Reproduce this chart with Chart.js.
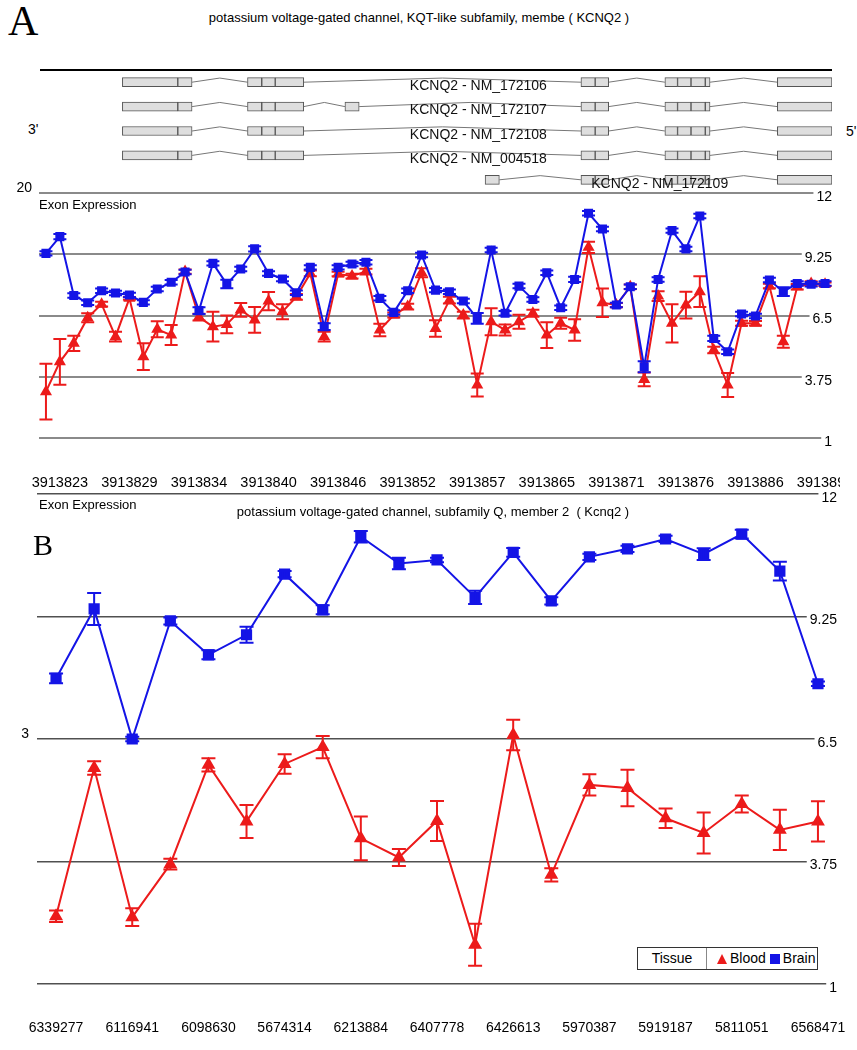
<!DOCTYPE html>
<html>
<head>
<meta charset="utf-8">
<title>KCNQ2 exon expression</title>
<script src="https://cdn.jsdelivr.net/npm/chart.js@4.4.1/dist/chart.umd.min.js"></script>
<style>
  body { margin: 0; width: 857px; height: 1050px; overflow: hidden; background: #fff; position: relative;
         font-family: "Liberation Sans", Arial, sans-serif; color: #000; }
  canvas { position: absolute; left: 0; }
  .txt { position: absolute; white-space: nowrap; }
  .panel { font-family: "Liberation Serif", "Times New Roman", serif; line-height: 1; }
  .title { font-size: 13px; line-height: 15px; text-align: center; left: 0; }
  .small { font-size: 13px; line-height: 15px; }
  .mid { font-size: 14px; line-height: 16px; }
  #rule { position: absolute; left: 40px; top: 69px; width: 792px; height: 2px; background: #000; }
  #legend { position: absolute; left: 637px; top: 947px; width: 179px; height: 21px; border: 1px solid #333;
            display: flex; font-size: 14px; line-height: 21px; background: #fff; }
  #legend .cell1 { width: 68px; text-align: center; border-right: 1px solid #888; }
  #legend .cell2 { padding-left: 10px; display: flex; align-items: center; }
  .tri { width: 0; height: 0; border-left: 5px solid transparent; border-right: 5px solid transparent;
         border-bottom: 10px solid #ec1b1b; margin-right: 3px; }
  .sq { width: 10px; height: 10px; background: #1414e6; margin: 0 3px 0 4px; }
</style>
</head>
<body>
<div class="txt panel" style="left:8px; top:0px; font-size:42px;">A</div>
<div class="txt title" style="top:10px; width:838px;">potassium voltage-gated channel, KQT-like subfamily, membe ( KCNQ2 )</div>
<div id="rule"></div>
<div class="txt mid" style="left:28px; top:121px;">3'</div>
<div class="txt mid" style="left:846px; top:123px;">5'</div>

<canvas id="geneChart" width="857" height="122" style="top:70px;"></canvas>
<canvas id="chartA" width="840" height="320" style="top:175px;"></canvas>
<canvas id="chartB" width="857" height="570" style="top:480px;"></canvas>

<div class="txt small" style="left:39px; top:197px;">Exon Expression</div>
<div class="txt small" style="left:39px; top:497px;">Exon Expression</div>
<div class="txt title" style="top:504px; width:866px;">potassium voltage-gated channel, subfamily Q, member 2&nbsp; ( Kcnq2 )</div>
<div class="txt panel" style="left:33px; top:530px; font-size:30px;">B</div>

<div id="legend">
  <div class="cell1">Tissue</div>
  <div class="cell2"><span class="tri"></span>Blood<span class="sq"></span>Brain</div>
</div>

<script>
const FONT = '"Liberation Sans", Arial, sans-serif';
const RED = '#ec1b1b';
const BLUE = '#1414e6';
Chart.defaults.font.family = FONT;
Chart.defaults.color = '#000';

// ---- gene model (relative genomic position, 0-100) ----
const exonBounds = {
  e0: [56.2, 58.0],
  e1: [10.4, 17.4, 19.2],
  e2: [26.2, 28.0, 29.7, 33.3],
  e3: [38.5, 40.3],
  e4: [68.3, 70.1, 71.8],
  e5: [78.9, 80.5, 82.2, 84.0, 84.6],
  e6: [93.1, 100]
};
const transcriptNames = ['KCNQ2 - NM_172106', 'KCNQ2 - NM_172107', 'KCNQ2 - NM_172108', 'KCNQ2 - NM_004518', 'KCNQ2 - NM_172109'];
const transcriptExons = [
  ['e1', 'e2', 'e4', 'e5', 'e6'],
  ['e1', 'e2', 'e3', 'e4', 'e5', 'e6'],
  ['e1', 'e2', 'e4', 'e5', 'e6'],
  ['e1', 'e2', 'e4', 'e5', 'e6'],
  ['e0', 'e4', 'e5', 'e6']
];
const transcriptLabelPos = [46.7, 46.7, 46.7, 46.7, 69.6];

// ---- panel A: exon probes ----
const xTicksA = ['3913823', '3913829', '3913834', '3913840', '3913846', '3913852', '3913857', '3913865', '3913871', '3913876', '3913886', '3913891'];
const xTickIdxA = [1, 6, 11, 16, 21, 26, 31, 36, 41, 46, 51, 56];
const brainA = [9.29, 10.04, 7.40, 7.07, 7.61, 7.51, 7.42, 7.09, 7.69, 7.99, 8.45, 6.72, 8.84, 7.91, 8.59, 9.49, 8.39, 8.14, 7.52, 8.66,
  6.0, 8.66, 8.81, 8.89, 7.27, 6.64, 7.61, 9.22, 7.64, 7.57, 7.15, 6.37, 9.44, 6.6, 7.82, 7.22, 8.42, 6.85, 8.12, 11.09,
  10.38, 6.97, 7.79, 4.2, 8.12, 10.31, 9.49, 10.97, 5.47, 4.87, 6.57, 6.48, 8.09, 7.57, 7.94, 7.9, 7.94];
const brainAErr = [0.1, 0.12, 0.1, 0.1, 0.1, 0.1, 0.1, 0.1, 0.1, 0.1, 0.1, 0.15, 0.1, 0.19, 0.1, 0.12, 0.1, 0.1, 0.1, 0.1,
  0.15, 0.1, 0.1, 0.1, 0.1, 0.1, 0.1, 0.1, 0.1, 0.1, 0.1, 0.24, 0.1, 0.1, 0.1, 0.1, 0.1, 0.1, 0.12, 0.1,
  0.1, 0.1, 0.1, 0.25, 0.1, 0.1, 0.1, 0.1, 0.12, 0.1, 0.1, 0.1, 0.1, 0.2, 0.1, 0.1, 0.1];
const bloodA = [3.08, 4.42, 5.25, 6.40, 7.01, 5.55, 7.27, 4.65, 5.88, 5.62, 8.47, 6.43, 6.0, 6.10, 6.75, 6.30, 7.15, 6.67, 7.34, 8.39,
  5.55, 8.36, 8.27, 8.47, 5.85, 6.52, 6.9, 8.42, 5.92, 7.19, 6.52, 3.38, 6.22, 5.85, 6.22, 6.6, 5.62, 6.15, 5.85, 9.56,
  7.07, 6.97, 7.79, 3.63, 7.37, 6.15, 6.97, 7.57, 4.95, 3.38, 6.15, 6.15, 7.82, 5.32, 7.79, 7.94, 7.9];
const bloodAErr = [1.25, 1.03, 0.34, 0.2, 0.11, 0.22, 0.06, 0.6, 0.36, 0.45, 0.1, 0.15, 0.67, 0.4, 0.31, 0.58, 0.41, 0.34, 0.13, 0.13,
  0.22, 0.1, 0.11, 0.13, 0.28, 0.11, 0.13, 0.2, 0.37, 0.15, 0.15, 0.52, 0.61, 0.25, 0.31, 0.16, 0.58, 0.25, 0.48, 0.25,
  0.64, 0.09, 0.1, 0.31, 0.22, 0.86, 0.6, 0.69, 0.15, 0.54, 0.11, 0.1, 0.1, 0.27, 0.12, 0.1, 0.08];

// ---- panel B: transcript clusters ----
const xTicksB = ['6339277', '6116941', '6098630', '5674314', '6213884', '6407778', '6426613', '5970387', '5919187', '5811051', '6568471'];
const xTickIdxB = [0, 2, 4, 6, 8, 10, 12, 14, 16, 18, 20];
const brainB = [7.86, 9.42, 6.5, 9.15, 8.39, 8.84, 10.2, 9.4, 11.04, 10.44, 10.52, 9.68, 10.69, 9.6, 10.59, 10.77, 10.99, 10.65, 11.1, 10.27, 7.74];
const brainBErr = [0.11, 0.36, 0.05, 0.08, 0.1, 0.18, 0.07, 0.1, 0.13, 0.13, 0.05, 0.15, 0.1, 0.08, 0.07, 0.07, 0.07, 0.13, 0.1, 0.21, 0.05];
const bloodB = [2.52, 5.85, 2.5, 3.69, 5.92, 4.65, 5.94, 6.32, 4.27, 3.84, 4.66, 1.88, 6.59, 3.45, 5.47, 5.4, 4.72, 4.39, 5.04, 4.46, 4.65];
const bloodBErr = [0.13, 0.15, 0.2, 0.12, 0.15, 0.37, 0.22, 0.25, 0.49, 0.19, 0.45, 0.47, 0.34, 0.15, 0.24, 0.41, 0.22, 0.46, 0.19, 0.45, 0.45];

const yTicks = [1, 3.75, 6.5, 9.25, 12];

// error bars with caps, drawn right after each dataset
const errorBars = {
  id: 'errorBars',
  afterDatasetDraw(chart, args, opts) {
    const ds = chart.data.datasets[args.index];
    if (!ds.errors) return;
    const ys = chart.scales[args.meta.yAxisID];
    const ctx = chart.ctx;
    const h = opts.cap / 2;
    ctx.save();
    ctx.strokeStyle = ds.borderColor;
    ctx.lineWidth = opts.width;
    args.meta.data.forEach((pt, i) => {
      const v = ds.data[i].y, e = ds.errors[i];
      const top = ys.getPixelForValue(v + e), bot = ys.getPixelForValue(v - e);
      ctx.beginPath();
      ctx.moveTo(pt.x, top); ctx.lineTo(pt.x, bot);
      ctx.moveTo(pt.x - h, top); ctx.lineTo(pt.x + h, top);
      ctx.moveTo(pt.x - h, bot); ctx.lineTo(pt.x + h, bot);
      ctx.stroke();
    });
    ctx.restore();
  }
};

const transcriptLabels = {
  id: 'transcriptLabels',
  afterDatasetsDraw(chart) {
    const { ctx, scales: { x, y } } = chart;
    ctx.save();
    ctx.font = '14px ' + FONT;
    ctx.fillStyle = '#111';
    ctx.textBaseline = 'middle';
    transcriptNames.forEach((n, i) => ctx.fillText(n, x.getPixelForValue(transcriptLabelPos[i]), y.getPixelForValue(i + 1) + 4));
    ctx.restore();
  }
};

// gene structure: exon segments as floating bars, introns as bent lines
const exonBars = [];
const intronPts = [];
transcriptExons.forEach((list, r) => {
  const row = r + 1;
  list.forEach((id, k) => {
    const b = exonBounds[id];
    for (let j = 0; j < b.length - 1; j++) exonBars.push({ x: [b[j], b[j + 1]], y: row });
    if (k > 0) {
      const prevEnd = exonBounds[list[k - 1]][exonBounds[list[k - 1]].length - 1];
      intronPts.push({ x: prevEnd, y: row }, { x: (prevEnd + b[0]) / 2, y: row - 0.17 }, { x: b[0], y: row }, { x: b[0], y: null });
    }
  });
});

new Chart(document.getElementById('geneChart'), {
  type: 'bar',
  data: {
    datasets: [
      { type: 'bar', indexAxis: 'y', data: exonBars, backgroundColor: '#dedede', borderColor: '#555',
        borderWidth: 1, borderSkipped: false, barThickness: 9, grouped: false },
      { type: 'line', data: intronPts, borderColor: '#777', borderWidth: 1, pointRadius: 0, spanGaps: false, tension: 0 }
    ]
  },
  options: {
    responsive: false, animation: false, devicePixelRatio: 1,
    layout: { padding: { left: 40, right: 25, top: 0, bottom: 0 }, autoPadding: false },
    plugins: { legend: { display: false }, tooltip: { enabled: false } },
    scales: {
      x: { type: 'linear', min: 0, max: 100, offset: false, display: false },
      y: { type: 'linear', min: 0.5, max: 5.5, offset: false, reverse: true, display: false }
    }
  },
  plugins: [transcriptLabels]
});

function expressionChart(canvasId, cfg) {
  const setTicks = s => { s.ticks = yTicks.map(v => ({ value: v })); };
  return new Chart(document.getElementById(canvasId), {
    type: 'line',
    data: {
      datasets: [
        { label: 'Brain', data: cfg.brain.map((v, i) => ({ x: i, y: v })), errors: cfg.brainErr,
          borderColor: BLUE, backgroundColor: BLUE, pointStyle: 'rect', pointRadius: cfg.rect,
          borderWidth: 2, tension: 0, order: 1 },
        { label: 'Blood', data: cfg.blood.map((v, i) => ({ x: i, y: v })), errors: cfg.bloodErr,
          borderColor: RED, backgroundColor: RED, pointStyle: 'triangle', pointRadius: cfg.tri,
          borderWidth: 2, tension: 0, order: 2 }
      ]
    },
    options: {
      responsive: false, animation: false, devicePixelRatio: 1,
      layout: { padding: cfg.padding, autoPadding: false },
      plugins: { legend: { display: false }, tooltip: { enabled: false }, errorBars: { cap: cfg.cap, width: 2 } },
      scales: {
        x: {
          type: 'linear', min: -0.5, max: cfg.brain.length - 0.5,
          grid: { display: false, drawTicks: false }, border: { display: false },
          afterBuildTicks: s => { s.ticks = cfg.tickIdx.map(v => ({ value: v })); },
          ticks: { autoSkip: false, maxRotation: 0, padding: 36, font: { size: cfg.xFont }, callback: (v, i) => cfg.ticks[i] },
          afterFit: s => { s.height = 54; s.paddingLeft = 0; s.paddingRight = 0; }
        },
        y: {
          type: 'linear', position: 'right', min: 1, max: 12, afterBuildTicks: setTicks,
          grid: { color: cfg.gridColor, lineWidth: cfg.gridWidth, drawTicks: false }, border: { display: false },
          ticks: { mirror: true, padding: 0, labelOffset: 4, showLabelBackdrop: true, backdropColor: '#fff',
                   backdropPadding: { top: 0, bottom: 0, left: 3, right: 0 }, font: { size: 14 }, callback: v => String(v) },
          afterFit: s => { s.width = cfg.rightW; s.paddingTop = 0; s.paddingBottom = 0; }
        },
        yl: {
          type: 'linear', position: 'left', min: 1, max: 12, afterBuildTicks: setTicks,
          grid: { display: false, drawTicks: false }, border: { display: false },
          ticks: { padding: cfg.leftPad, labelOffset: -5, font: { size: 14 }, callback: v => (v === cfg.leftAt ? cfg.leftText : '') },
          afterFit: s => { s.width = cfg.leftW; s.paddingTop = 0; s.paddingBottom = 0; }
        }
      }
    },
    plugins: [errorBars]
  });
}

expressionChart('chartA', {
  brain: brainA, brainErr: brainAErr, blood: bloodA, bloodErr: bloodAErr,
  ticks: xTicksA, tickIdx: xTickIdxA, xFont: 14.5,
  rect: 5, tri: 5, cap: 13,
  gridColor: '#8a8a8a', gridWidth: 2,
  padding: { top: 18, bottom: 3, left: 0, right: 0 },
  leftW: 39, rightW: 8, leftPad: 7, leftAt: 12, leftText: '20'
});

expressionChart('chartB', {
  brain: brainB, brainErr: brainBErr, blood: bloodB, bloodErr: bloodBErr,
  ticks: xTicksB, tickIdx: xTickIdxB, xFont: 14,
  rect: 6.5, tri: 6, cap: 14,
  gridColor: '#505050', gridWidth: 1.5,
  padding: { top: 14, bottom: 12, left: 0, right: 0 },
  leftW: 37, rightW: 20, leftPad: 8, leftAt: 6.5, leftText: '3'
});
</script>
</body>
</html>
